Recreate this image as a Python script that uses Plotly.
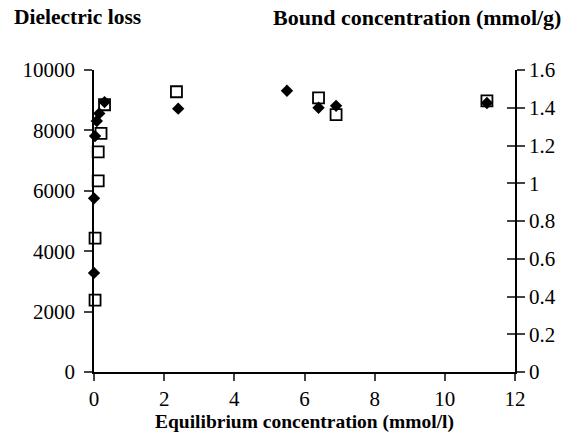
import plotly.graph_objects as go

# Dielectric loss (open squares, left axis)
loss_x = [0.03, 0.03, 0.12, 0.12, 0.2, 0.3, 2.35, 6.4, 6.9, 11.2]
loss_y = [2380, 4430, 6330, 7290, 7900, 8850, 9280, 9080, 8520, 8980]

# Bound concentration (filled diamonds, right axis)
bound_x = [0.0, 0.0, 0.03, 0.08, 0.15, 0.3, 2.4, 5.5, 6.4, 6.9, 11.2]
bound_y = [0.525, 0.92, 1.25, 1.33, 1.37, 1.43, 1.395, 1.49, 1.40, 1.41, 1.425]

x_ticks = [0, 2, 4, 6, 8, 10, 12]
left_ticks = [0, 2000, 4000, 6000, 8000, 10000]
left_labels = ["0", "2000", "4000", "6000", "8000", "10000"]
right_ticks = [0, 0.2, 0.4, 0.6, 0.8, 1, 1.2, 1.4, 1.6]
right_labels = ["0", "0.2", "0.4", "0.6", "0.8", "1", "1.2", "1.4", "1.6"]

FONT = "Liberation Serif, Times New Roman, DejaVu Serif, serif"
TICK = 21

fig = go.Figure()
fig.add_trace(go.Scatter(
    x=loss_x, y=loss_y, mode="markers", yaxis="y", cliponaxis=False,
    marker=dict(symbol="square-open", size=11, color="black", line=dict(width=1.8, color="black")),
    name="Dielectric loss", showlegend=False))
fig.add_trace(go.Scatter(
    x=bound_x, y=bound_y, mode="markers", yaxis="y2", cliponaxis=False,
    marker=dict(symbol="diamond", size=9.5, color="black", line=dict(width=0)),
    name="Bound concentration", showlegend=False))
fig.add_trace(go.Scatter(x=[None], y=[None], yaxis="y3", showlegend=False, hoverinfo="skip"))

fig.update_layout(
    width=568, height=443,
    margin=dict(l=94, r=50, t=70, b=71),
    paper_bgcolor="white", plot_bgcolor="white",
    font=dict(family=FONT, size=TICK, color="black"),
    xaxis=dict(range=[0, 12], tickvals=x_ticks, ticks="outside", ticklen=7, tickwidth=1.5,
               showline=True, linewidth=2, linecolor="black", showgrid=False, zeroline=False,
               title=dict(text="<b>Equilibrium concentration (mmol/l)</b>", font=dict(size=19.5), standoff=1),
               tickfont=dict(size=TICK)),
    yaxis=dict(range=[0, 10000], tickvals=left_ticks, ticktext=left_labels, ticks="outside",
               ticklen=8, tickwidth=1.5, ticklabelstandoff=5,
               showline=True, linewidth=1.5, linecolor="black", showgrid=False, zeroline=False,
               tickfont=dict(size=TICK)),
    yaxis2=dict(range=[0, 1.6], tickvals=right_ticks, ticktext=right_labels, overlaying="y", side="right",
                anchor="x", ticks="outside", ticklen=8, tickwidth=1.5, showline=True, linewidth=1.5,
                linecolor="black", showgrid=False, zeroline=False, tickfont=dict(size=TICK)),
    yaxis3=dict(range=[0, 1.6], tickvals=right_ticks, overlaying="y", side="right", anchor="x",
                ticks="inside", ticklen=8, tickwidth=1.5, showticklabels=False, showline=False,
                showgrid=False, zeroline=False),
    annotations=[
        dict(text="<b>Dielectric loss</b>", xref="paper", yref="paper", x=-0.195, y=1.0,
             yshift=53, xanchor="left", yanchor="middle", showarrow=False, font=dict(size=21.5)),
        dict(text="<b>Bound concentration (mmol/g)</b>", xref="paper", yref="paper", x=1.0,
             xshift=48, y=1.0, yshift=53, xanchor="right", yanchor="middle", showarrow=False,
             font=dict(size=22)),
    ],
)

fig.write_html("out.html")
